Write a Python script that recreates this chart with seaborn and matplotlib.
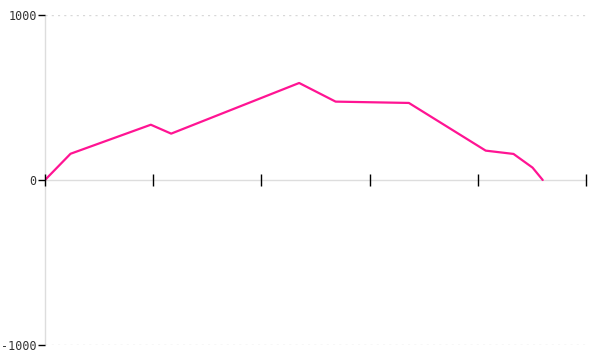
import matplotlib
matplotlib.use("Agg")
import matplotlib.pyplot as plt
import seaborn as sns
import pandas as pd

x_vals = [0.0, 0.236, 0.978, 1.166, 2.349, 2.686, 3.026, 3.363, 4.073, 4.33, 4.506, 4.60]
y_vals = [0, 159, 335, 281, 588, 475, 471, 467, 178, 158, 75, 0]
y_ticks = [-1000, 0, 1000]
x_ticks = [0, 1, 2, 3, 4, 5]

sns.set_style("white")
plt.rcParams['font.family'] = ['DejaVu Sans Mono', 'DejaVu Sans']

fig = plt.figure(figsize=(6, 3.6), dpi=100)
ax = fig.add_axes([45/600, 1 - 345/360, (586 - 45)/600, 330/360])

df = pd.DataFrame({"x": x_vals, "y": y_vals})
sns.lineplot(data=df, x="x", y="y", ax=ax, color="#ff1493", linewidth=1.6, zorder=2)

ax.set_xlim(0, 5)
ax.set_ylim(-1000, 1000)
ax.set_xticks(x_ticks)
ax.set_xticklabels([])
ax.set_yticks(y_ticks)
ax.set_yticklabels([str(v) for v in y_ticks])
ax.set_xlabel("")
ax.set_ylabel("")

for v in [-1000, 1000]:
    ax.axhline(v, color="#d8d8d8", linewidth=1, linestyle=(0, (1.5, 3)), zorder=0)

ax.spines['top'].set_visible(False)
ax.spines['right'].set_visible(False)
ax.spines['left'].set_color("#dddddd")
ax.spines['bottom'].set_color("#dddddd")
ax.spines['bottom'].set_position(('data', 0))
ax.spines['left'].set_linewidth(1)
ax.spines['bottom'].set_linewidth(1)
ax.spines['left'].set_zorder(0.5)
ax.spines['bottom'].set_zorder(0.5)
ax.xaxis.set_zorder(5)
ax.yaxis.set_zorder(5)

ax.tick_params(axis='x', direction='inout', length=9, width=1, color='black', bottom=True)
ax.tick_params(axis='y', direction='out', length=5, width=1, color='black', left=True,
               labelsize=8.5, labelcolor='#333333', pad=1)

fig.savefig("out.png", dpi=100)
